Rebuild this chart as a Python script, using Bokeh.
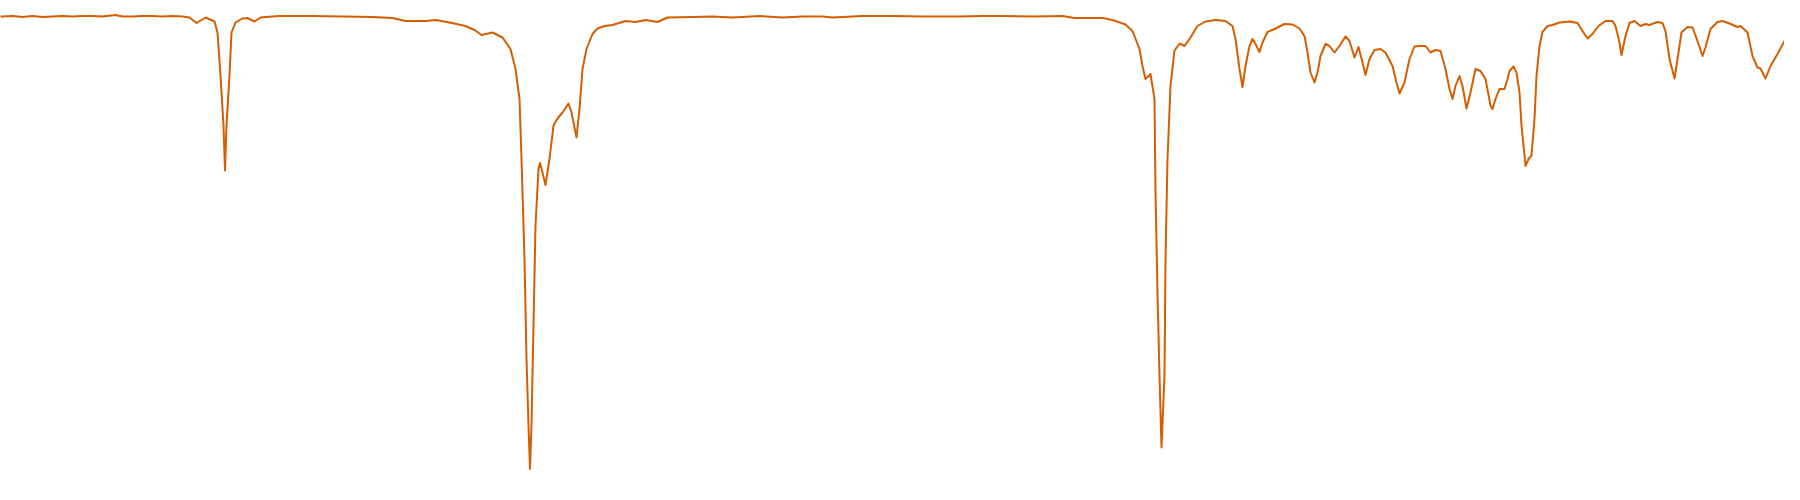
from bokeh.plotting import figure
from bokeh.models import Range1d
from bokeh.embed import file_html
from bokeh.resources import INLINE

# Wavenumber (cm^-1) and transmittance (%)
wavenumber = [
    4000, 3980, 3960, 3940, 3920, 3900, 3880, 3860, 3840, 3820, 3800, 3780, 3754, 3740,
    3720, 3700, 3680, 3660, 3640, 3620, 3606, 3592, 3574, 3556, 3550, 3544, 3538, 3535,
    3532, 3526, 3522, 3514, 3500, 3490, 3476, 3464, 3440, 3426, 3400, 3360, 3300, 3240,
    3200, 3174, 3134, 3114, 3086, 3054, 3036, 3022, 3000, 2980, 2964, 2954, 2946, 2942,
    2936, 2932, 2928, 2925, 2922, 2918, 2914, 2908, 2905, 2900, 2894, 2886, 2878, 2870,
    2860, 2848, 2842, 2832, 2826, 2820, 2812, 2800, 2790, 2776, 2760, 2734, 2714, 2694,
    2670, 2650, 2600, 2560, 2520, 2466, 2420, 2380, 2340, 2320, 2260, 2200, 2140, 2066,
    2020, 1980, 1920, 1860, 1836, 1780, 1760, 1734, 1720, 1706, 1700, 1694, 1684, 1676,
    1674, 1670, 1666, 1662, 1656, 1654, 1650, 1644, 1636, 1626, 1616, 1604, 1590, 1574,
    1554, 1534, 1520, 1514, 1506, 1500, 1494, 1486, 1480, 1474, 1466, 1460, 1450, 1436,
    1416, 1400, 1386, 1376, 1370, 1364, 1356, 1350, 1344, 1334, 1326, 1316, 1306, 1294,
    1286, 1276, 1268, 1260, 1254, 1246, 1236, 1224, 1214, 1200, 1192, 1186, 1176, 1166,
    1156, 1146, 1134, 1124, 1114, 1104, 1094, 1086, 1080, 1074, 1066, 1060, 1052, 1044,
    1034, 1024, 1014, 1004, 1000, 994, 986, 976, 970, 966, 958, 952, 946, 942,
    936, 934, 928, 922, 916, 912, 906, 900, 890, 880, 866, 846, 830, 820,
    810, 800, 788, 774, 760, 754, 746, 742, 734, 726, 716, 704, 694, 686,
    670, 660, 654, 646, 636, 630, 622, 610, 600, 590, 580, 574, 564, 550,
    540, 526, 510, 504, 490, 480, 470, 464, 454, 444, 430, 416, 400,
]

transmittance = [
    95.1, 95.2, 95.3, 95.1, 95.3, 95.1, 95.2, 95.3, 95.2, 95.3, 95.3, 95.2, 95.5, 95.2,
    95.2, 95.3, 95.3, 95.2, 95.3, 95.2, 95.0, 93.9, 95.0, 94.2, 92.0, 83.4, 73.4, 64.4,
    73.4, 83.4, 92.0, 94.0, 94.8, 94.9, 94.2, 95.0, 95.2, 95.3, 95.3, 95.3, 95.2, 95.1,
    94.9, 94.3, 94.3, 94.5, 94.0, 93.3, 92.5, 91.5, 92.0, 91.0, 88.7, 84.7, 78.7, 66.7,
    46.7, 26.7, 13.4, 4.7, 13.4, 33.4, 53.4, 64.7, 65.9, 64.0, 61.5, 66.7, 73.4, 74.8,
    76.0, 77.8, 76.0, 71.0, 76.7, 84.7, 88.7, 91.7, 92.8, 93.3, 93.5, 94.3, 94.1, 94.5,
    94.1, 95.0, 95.1, 95.2, 95.0, 95.3, 95.0, 95.2, 95.2, 95.0, 95.3, 95.3, 95.2, 95.2,
    95.3, 95.3, 95.2, 95.3, 94.9, 94.9, 94.5, 93.6, 92.3, 88.7, 85.3, 82.7, 83.7, 78.7,
    60.0, 40.0, 23.4, 9.0, 23.4, 46.6, 66.6, 81.4, 88.4, 89.8, 89.3, 91.0, 93.3, 94.2,
    94.5, 94.3, 93.3, 90.7, 84.7, 81.1, 85.3, 89.3, 90.7, 89.7, 88.1, 90.0, 92.1, 92.7,
    93.7, 93.6, 92.8, 91.3, 88.0, 84.0, 82.0, 84.0, 87.3, 89.7, 89.3, 88.0, 89.3, 91.2,
    90.3, 87.0, 89.1, 86.0, 83.5, 86.7, 88.5, 88.7, 88.0, 85.3, 82.0, 79.8, 82.0, 86.7,
    89.2, 89.3, 89.3, 88.0, 88.5, 88.3, 84.7, 80.7, 78.7, 81.3, 83.3, 81.3, 76.8, 80.0,
    84.7, 84.3, 82.7, 77.4, 76.7, 78.7, 80.7, 80.7, 82.7, 84.3, 85.2, 84.0, 80.0, 73.4,
    67.4, 65.3, 66.7, 67.4, 74.7, 83.3, 89.3, 92.1, 93.3, 93.5, 94.0, 94.2, 93.9, 92.3,
    90.8, 91.7, 93.3, 94.3, 94.3, 93.3, 90.0, 87.5, 91.3, 93.9, 94.3, 93.3, 93.7, 93.5,
    94.1, 93.9, 92.3, 86.7, 82.8, 86.7, 92.0, 93.1, 93.0, 90.3, 87.3, 89.0, 92.7, 94.1,
    94.3, 93.8, 93.1, 93.3, 92.0, 87.3, 85.0, 84.8, 82.8, 85.3, 87.7, 90.3, 91.0,
]

p = figure(
    width=1784, height=484,
    x_range=Range1d(3984, 416), y_range=Range1d(1.6, 98.4),
    output_backend="svg", toolbar_location=None,
    min_border=0, min_border_left=0, min_border_right=0,
    min_border_top=0, min_border_bottom=0,
)
p.line(wavenumber, transmittance, line_color="#d55e00", line_width=2,
       line_join="round", line_cap="round")

p.xaxis.visible = False
p.yaxis.visible = False
p.xgrid.visible = False
p.ygrid.visible = False
p.outline_line_color = None
p.background_fill_color = "white"
p.border_fill_color = "white"

open("out.html", "w").write(file_html(p, INLINE))
